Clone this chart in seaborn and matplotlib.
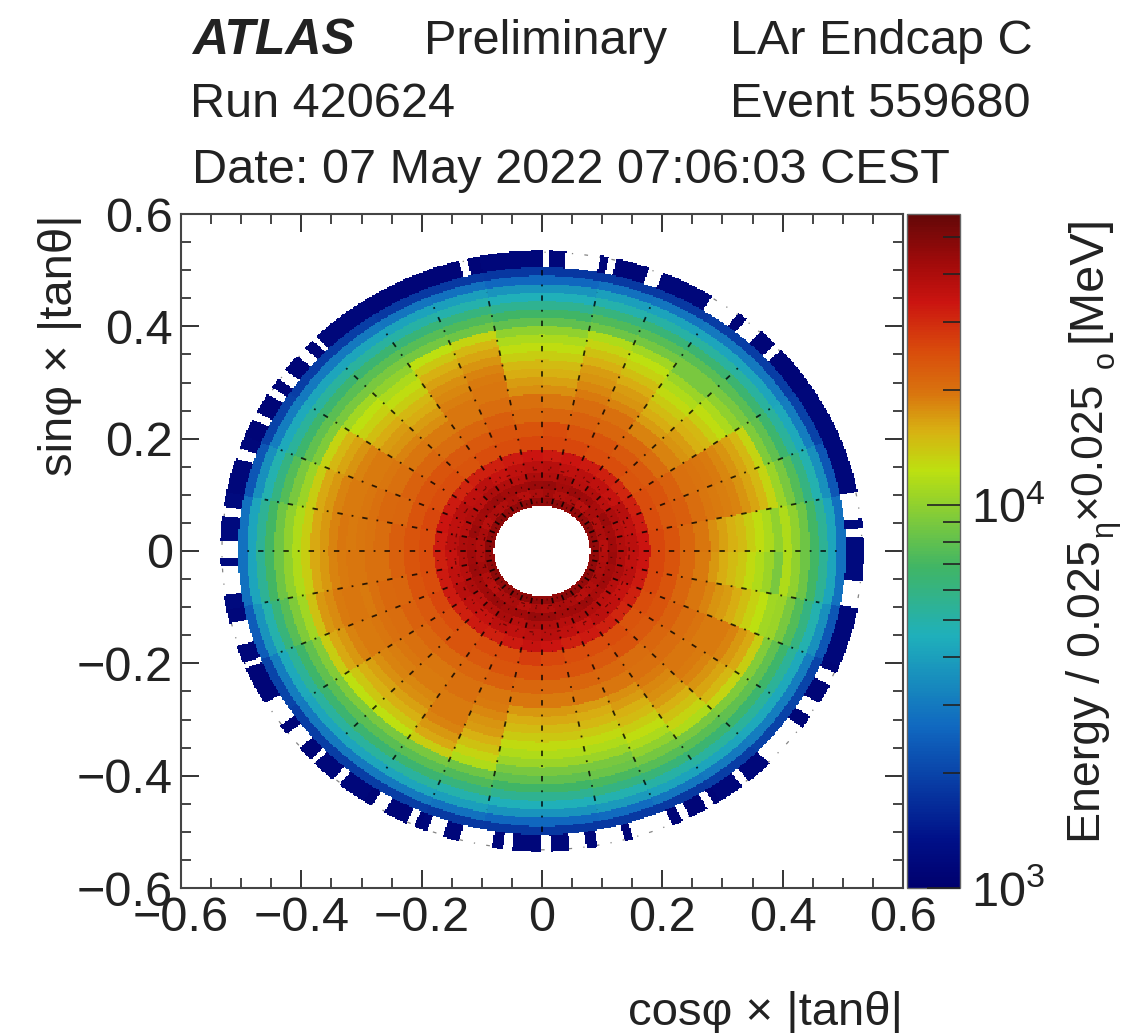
import numpy as np
import pandas as pd
import matplotlib
matplotlib.use('Agg')
import matplotlib.pyplot as plt
import seaborn as sns
from matplotlib.colors import LinearSegmentedColormap, LogNorm

# Rings in |tan theta|, sectors are 11.25 deg wide starting at phi = 0
ring_edges = [0.080, 0.095, 0.110, 0.125, 0.140, 0.160, 0.180, 0.205, 0.230, 0.255, 0.280,
              0.295, 0.310, 0.325, 0.340, 0.355, 0.370, 0.385, 0.400, 0.415, 0.430, 0.445,
              0.460, 0.475, 0.490, 0.505, 0.535]

# Energy per cell, in GeV
ring_01 = [46, 45, 47, 45, 46, 45, 47, 46, 46, 47, 46, 45, 47, 46, 46, 47, 45, 46, 47, 46, 45, 46, 47, 46, 46, 45, 47, 46, 45, 47, 46, 46]
ring_02 = [38, 40, 39, 41, 38, 40, 39, 42, 40, 38, 41, 39, 40, 38, 41, 39, 40, 42, 39, 38, 40, 41, 38, 40, 39, 41, 40, 38, 39, 41, 40, 39]
ring_03 = [43, 42, 44, 41, 43, 44, 42, 45, 44, 43, 42, 44, 43, 42, 44, 41, 43, 44, 42, 43, 44, 42, 43, 45, 44, 42, 43, 44, 41, 43, 42, 44]
ring_04 = [39, 38, 40, 37, 39, 38, 41, 39, 40, 38, 39, 40, 37, 39, 38, 40, 39, 38, 40, 37, 39, 41, 38, 40, 39, 38, 40, 39, 37, 38, 40, 39]
ring_05 = [37, 36, 38, 35, 36, 37, 36, 38, 37, 36, 35, 37, 36, 38, 36, 37, 35, 36, 38, 36, 35, 37, 36, 37, 38, 36, 35, 37, 36, 35, 37, 36]
ring_06 = [34, 33, 32, 31, 32, 33, 34, 33, 34, 33, 32, 32, 31, 33, 34, 33, 32, 33, 33, 32, 33, 32, 33, 35, 34, 32, 33, 32, 31, 32, 33, 34]
ring_07 = [26, 25, 25, 24, 25, 25, 26, 26, 26, 25, 25, 24, 25, 25, 26, 25, 25, 25, 26, 25, 24, 25, 25, 27, 26, 25, 25, 25, 24, 25, 26, 26]
ring_08 = [24, 23, 24, 23, 23, 24, 24, 25, 24, 24, 23, 23, 24, 24, 24, 24, 24, 24, 23, 23, 24, 23, 24, 24, 24, 24, 23, 24, 23, 24, 24, 24]
ring_09 = [21.5, 22.5, 22, 20.5, 21, 21.5, 22, 21.5, 21, 22.5, 21.5, 20.5, 21.5, 22, 21.5, 22.5, 22, 21.5, 22, 21.5, 21, 21.5, 22, 21.5, 21, 21.5, 21, 20.5, 21.5, 22, 21.5, 21]
ring_10 = [19.5, 20.5, 20, 18.5, 18.5, 20, 20.5, 19.5, 20, 20.5, 19.5, 19, 19.5, 20, 21, 20.5, 20, 21, 20.5, 20, 19.5, 20, 19.5, 19.5, 19, 19.5, 19.5, 20, 20.5, 20.5, 19.5, 19]
ring_11 = [17.8, 19.5, 19.8, 17.5, 16.8, 18.5, 19, 17.6, 17.8, 19.4, 19.5, 17.8, 18.5, 19.5, 20, 19.8, 20, 20.2, 20, 19.5, 19.2, 20, 19, 17, 17.2, 16.8, 17.8, 19, 19.5, 19.8, 18.5, 17]
ring_12 = [16.6, 19.2, 19.5, 16.8, 15.8, 17.5, 18.3, 16.6, 16.8, 19.4, 18.8, 16.8, 17.5, 19.2, 19.5, 19.4, 19.6, 19.2, 19.5, 18.8, 19, 19.2, 18.3, 15.8, 16, 15.8, 16.8, 18.3, 19.4, 19.2, 17.5, 15.8]
ring_13 = [15.6, 18.8, 19, 15.6, 14.8, 16.8, 17.4, 15.6, 15.8, 19, 18.2, 15.8, 16.8, 19, 19.2, 19, 19.4, 19.6, 19, 18.4, 18.2, 19.2, 17.4, 14.8, 14.8, 15, 15.6, 17.6, 19, 19.2, 16.8, 14.8]
ring_14 = [14.8, 18.4, 18.2, 15, 13.8, 15.8, 16.8, 14.8, 15, 18.6, 17.8, 15, 15.8, 18.6, 19, 19.4, 19, 19.6, 19.2, 17.8, 17.6, 19.2, 16.8, 13.8, 14, 13.8, 14.8, 16.8, 18.4, 19.2, 15.8, 14]
ring_15 = [13.6, 17.5, 17.5, 13.6, 12.6, 14.7, 15.7, 13.6, 13.6, 17.5, 16.7, 13.6, 14.7, 17.5, 18.4, 18.4, 18.4, 19, 18.4, 16.7, 16.7, 18.4, 15.7, 12.6, 12.6, 12.6, 13.6, 15.7, 17.5, 18.4, 14.7, 12.6]
ring_16 = [12.4, 16.4, 16.4, 12.4, 11.6, 13.4, 14.4, 12.4, 12.4, 16.4, 15.5, 12.4, 13.4, 16.4, 17.2, 17.2, 17.2, 18, 17.2, 15.5, 15.5, 17.2, 14.4, 11.6, 11.6, 11.6, 12.4, 14.4, 16.4, 17.2, 13.4, 11.6]
ring_17 = [11.4, 15, 15, 11.4, 10.5, 12.2, 13, 11.4, 11.4, 15, 14, 11.4, 12.2, 15, 16, 16, 16, 17, 16, 14, 14, 16, 13, 10.5, 10.5, 10.5, 11.4, 13, 15, 16, 12.2, 10.5]
ring_18 = [10, 13, 13, 10, 9, 10.8, 11.6, 10, 10, 13, 12.3, 10, 10.8, 13, 13.6, 13.6, 13.6, 14.5, 13.6, 12.3, 12.3, 13.6, 11.6, 9, 9, 9, 10, 11.6, 13, 13.6, 10.8, 9]
ring_19 = [11.5, 10.5, 9.2, 9, 9, 8.8, 8.6, 8, 8, 8.6, 8.8, 9, 9, 9.2, 10.5, 11.5, 11.5, 10.8, 9.4, 9.2, 9, 9, 8.6, 8, 8, 8.4, 8.8, 9, 9.2, 9.4, 10.5, 11.5]
ring_20 = [10, 9, 8, 7.8, 7.8, 7.6, 7.4, 6.8, 6.8, 7.4, 7.6, 7.8, 7.8, 8, 9, 10, 10, 9.2, 8, 7.8, 7.8, 7.8, 7.4, 6.8, 6.8, 7.2, 7.6, 7.8, 8, 8, 9, 10]
ring_21 = [8.5, 7.5, 6.6, 6.5, 6.5, 6.3, 6.1, 5.6, 5.6, 6.1, 6.3, 6.5, 6.5, 6.6, 7.5, 8.5, 8.5, 7.7, 6.7, 6.5, 6.5, 6.5, 6.1, 5.6, 5.6, 6, 6.3, 6.5, 6.6, 6.7, 7.5, 8.5]
ring_22 = [7, 6, 5.3, 5.2, 5.2, 5.1, 4.9, 4.6, 4.6, 4.9, 5.1, 5.2, 5.2, 5.3, 6, 7, 7, 6.2, 5.4, 5.2, 5.2, 5.2, 4.9, 4.6, 4.6, 4.8, 5.1, 5.2, 5.3, 5.4, 6, 7]
ring_23 = [5.5, 4.8, 4.3, 4.2, 4.2, 4.1, 4, 3.7, 3.7, 4, 4.1, 4.2, 4.2, 4.3, 4.8, 5.5, 5.5, 4.9, 4.3, 4.2, 4.2, 4.2, 4, 3.7, 3.7, 3.9, 4.1, 4.2, 4.3, 4.3, 4.8, 5.5]
ring_24 = [4.2, 3.6, 3.1, 3, 3, 2.9, 2.8, 2.6, 2.6, 2.8, 2.9, 3, 3, 3.1, 3.6, 4.2, 4.2, 3.7, 3.1, 3, 3, 3, 2.8, 2.6, 2.6, 2.7, 2.9, 3, 3.1, 3.1, 3.6, 4.2]
ring_25 = [2.8, 2.3, 1.95, 1.9, 1.9, 1.85, 1.85, 1.8, 1.8, 1.85, 1.85, 1.9, 1.9, 1.95, 2.3, 2.8, 2.8, 2.4, 2, 1.9, 1.9, 1.9, 1.85, 1.8, 1.8, 1.85, 1.85, 1.9, 1.95, 2, 2.3, 2.8]
ring_26 = [1.2, 1.15, 1.15, 1.1, 1.1, 1.15, 1.1, 1.15, 1.15, 1.1, 1.1, 1.15, 1.1, 1.1, 1.15, 1.2, 1.2, 1.15, 1.1, 1.1, 1.15, 1.1, 1.15, 1.15, 1.15, 1.1, 1.1, 1.15, 1.1, 1.1, 1.15, 1.2]

# Holes in the outermost ring (deg)
gap_start = [2.8, 6.2, 42, 47, 52.4, 67.9, 76.6, 79.5, 88.6, 103.5, 134.5, 137.5, 143, 147, 152.5, 160, 171.5,
             178, 183, 194, 202, 210.5, 217.5, 224, 229.5, 238, 245, 249, 255, 263, 270, 275, 280, 286.5,
             296, 301, 308.5, 315, 326.5, 333.5, 349]
gap_end = [4.4, 11.4, 43.5, 50.5, 58, 70.5, 78, 85.7, 89.8, 105, 135.5, 139.5, 145, 148.5, 154, 162, 173.3,
           181.5, 188.5, 198.5, 203, 215.5, 221, 225, 231, 240.5, 246.5, 252, 261, 264.7, 271.5, 278, 285, 294,
           297.5, 302.5, 310, 324, 329.5, 336, 354.2]

tick_values = [-0.6, -0.4, -0.2, 0, 0.2, 0.4, 0.6]
ticklabels = ['\u22120.6', '\u22120.4', '\u22120.2', '0', '0.2', '0.4', '0.6']
cbar_minor = [2000, 3000, 4000, 5000, 6000, 7000, 8000, 9000, 20000, 30000, 40000, 50000]

cmap_stops = [(0, '#00006e'), (0.07, '#001088'), (0.238, '#1068c0'), (0.374, '#1fb0bb'), (0.476, '#40b565'),
              (0.62, '#bde010'), (0.68, '#d8b012'), (0.735, '#d9740e'), (0.80, '#d94a0c'), (0.87, '#cb1410'),
              (0.93, '#a00a0a'), (1, '#640808')]
cmap = LinearSegmentedColormap.from_list('atlas_rainbow', cmap_stops)

sns.set_style('ticks')
plt.rcParams['font.family'] = ['Liberation Sans', 'DejaVu Sans']
plt.rcParams['mathtext.fontset'] = 'custom'
plt.rcParams['mathtext.rm'] = 'Liberation Sans'
plt.rcParams['axes.unicode_minus'] = False

energy = np.array([ring_01, ring_02, ring_03, ring_04, ring_05, ring_06, ring_07, ring_08, ring_09, ring_10,
                   ring_11, ring_12, ring_13, ring_14, ring_15, ring_16, ring_17, ring_18, ring_19, ring_20,
                   ring_21, ring_22, ring_23, ring_24, ring_25, ring_26]) * 1000.0

# Polar bins looked up on a fine regular grid, since heatmap only draws rectangles
nx, ny = 541, 505
xc = (np.arange(nx) + 0.5) / nx * 1.2 - 0.6
yc = 0.6 - (np.arange(ny) + 0.5) / ny * 1.2
xx, yy = np.meshgrid(xc, yc)
rr = np.hypot(xx, yy)
pp = np.degrees(np.arctan2(yy, xx)) % 360
ring_i = np.searchsorted(ring_edges, rr) - 1
sec_i = (pp // 11.25).astype(int)
inside = (rr >= ring_edges[0]) & (rr < ring_edges[-1])
grid = np.full(rr.shape, np.nan)
grid[inside] = energy[ring_i[inside], sec_i[inside]]
for g0, g1 in zip(gap_start, gap_end):
    grid[(rr >= ring_edges[-2]) & (pp >= g0) & (pp <= g1)] = np.nan

W, H = 1123, 1033
fig = plt.figure(figsize=(W / 100, H / 100), dpi=100)
ax = fig.add_axes([181 / W, 1 - 888 / H, 722 / W, 674 / H])
cax = fig.add_axes([907 / W, 1 - 888 / H, 53 / W, 674 / H])

sns.heatmap(pd.DataFrame(grid), ax=ax, cbar_ax=cax, cmap=cmap, norm=LogNorm(vmin=1000, vmax=57500),
            xticklabels=False, yticklabels=False)


def to_x(v):
    return (np.asarray(v) + 0.6) / 1.2 * nx


def to_y(v):
    return (0.6 - np.asarray(v)) / 1.2 * ny


# Dash-dotted reference lines of the event display
for a in np.arange(0, 360, 11.25):
    t = np.radians(a)
    rmax = 0.50 if a % 90 == 0 else 0.47
    rline = np.array([0.085, rmax])
    ax.plot(to_x(rline * np.cos(t)), to_y(rline * np.sin(t)), color='black', lw=1.3, ls=(0, (3, 5, 1, 5)), alpha=0.8)
    t2 = np.radians(a + 5.625)
    rline = np.array([0.085, 0.18])
    ax.plot(to_x(rline * np.cos(t2)), to_y(rline * np.sin(t2)), color='black', lw=0.7, ls=(0, (2, 7)), alpha=0.5)
tt = np.radians(np.arange(0, 361, 1.0))
for rc, c, zo in [(0.098, '#300000', 3), (0.145, '#300000', 3), (0.532, '#333333', 0.5)]:
    ax.plot(to_x(rc * np.cos(tt)), to_y(rc * np.sin(tt)), color=c, lw=0.9, ls=(0, (3, 9, 1, 9)), alpha=0.6, zorder=zo)

for side in ['top', 'right', 'left', 'bottom']:
    ax.spines[side].set_visible(True)
    ax.spines[side].set_color('#444444')
    ax.spines[side].set_linewidth(1.5)

minor = [v / 100 for v in range(-60, 61, 5) if v % 20 != 0]
ax.set_xticks(to_x(tick_values))
ax.set_xticklabels(ticklabels, fontsize=35, color='#222222')
ax.set_yticks(to_y(tick_values))
ax.set_yticklabels(ticklabels, fontsize=35, color='#222222', rotation=0)
ax.set_xticks(to_x(minor), minor=True)
ax.set_yticks(to_y(minor), minor=True)
ax.tick_params(which='major', direction='in', length=13, width=1.4, color='#333333', top=True, right=True,
               bottom=True, left=True, pad=6)
ax.tick_params(which='minor', direction='in', length=7, width=1.4, color='#444444', top=True, right=True,
               bottom=True, left=True)

cb = ax.collections[0].colorbar
cb.outline.set_edgecolor('#666666')
cb.outline.set_linewidth(1.0)
cb.set_ticks([1000, 10000])
cb.set_ticklabels([r'$\mathregular{10^{3}}$', r'$\mathregular{10^{4}}$'])
cb.set_ticks(cbar_minor, minor=True)
cax.set_axisbelow(False)
cax.tick_params(which='major', direction='in', length=24, width=1.2, color='#222222', labelsize=35, pad=8,
                labelcolor='#222222', right=True, left=False)
cax.tick_params(which='minor', direction='in', length=12, width=1.2, color='#222222', right=True, left=False,
                labelright=False)


def put(px, py, s, **kw):
    kw.setdefault('fontsize', 35)
    kw.setdefault('color', '#222222')
    fig.text(px / W, 1 - py / H, s, **kw)


put(192, 54, 'ATLAS', fontweight='bold', fontstyle='italic', fontsize=36)
put(424, 54, 'Preliminary')
put(730, 54, 'LAr Endcap C')
put(190, 117, 'Run 420624')
put(730, 117, 'Event 559680')
put(192, 183, 'Date: 07 May 2022 07:06:03 CEST')

put(903, 1025, 'cos\u03c6 \u00d7 |tan\u03b8|', ha='right', fontsize=34)
put(72, 214, 'sin\u03c6 \u00d7 |tan\u03b8|', rotation=90, rotation_mode='anchor', ha='right', va='baseline', fontsize=34)

# Colour axis title is set in pieces because of the raised and lowered glyphs
rot = dict(rotation=90, rotation_mode='anchor', ha='left', va='baseline', fontsize=33.5)
put(1100, 843, 'Energy / 0.025', **rot)
put(1112, 537, '\u03b7', **dict(rot, fontsize=22))
put(1100, 518, '\u00d70.025', **dict(rot, fontsize=32))
put(1114, 368, '\u03bf', **dict(rot, fontsize=22))
put(1100, 342, '[MeV]', **dict(rot, fontsize=35))

fig.savefig('out.png', dpi=100)
